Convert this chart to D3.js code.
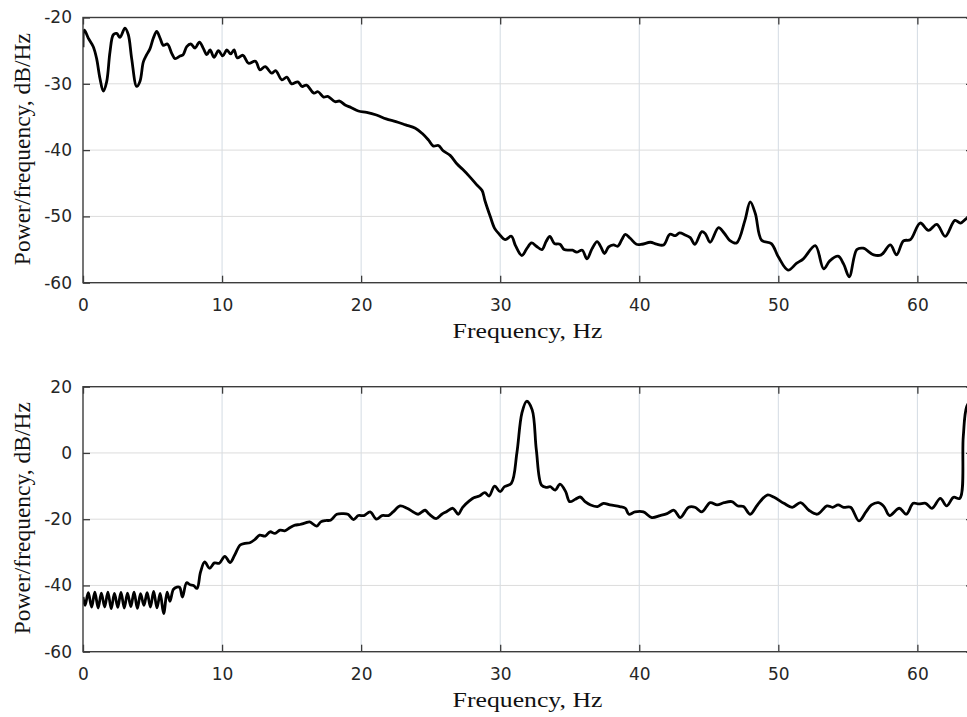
<!DOCTYPE html>
<html>
<head>
<meta charset="utf-8">
<script src="https://cdn.jsdelivr.net/npm/d3@7"></script>
<style>
  html, body { margin: 0; padding: 0; background: #ffffff; }
  svg { display: block; }
</style>
</head>
<body>
<svg id="chart" width="967" height="717"></svg>
<script>
// ---------------- DATA ----------------
const xTicks = [0, 10, 20, 30, 40, 50, 60];
const yTicksTop = [-60, -50, -40, -30, -20];
const yTicksBottom = [-60, -40, -20, 0, 20];
const xLabel = "Frequency, Hz";
const yLabel = "Power/frequency, dB/Hz";

const freqTop = [0.00,0.10,0.38,0.74,0.98,1.22,1.46,1.70,1.94,2.18,2.42,2.66,3.02,3.26,3.50,3.86,4.10,4.34,4.58,4.82,
  5.06,5.30,5.54,5.78,6.07,6.38,6.62,6.98,7.20,7.46,7.75,8.06,8.37,8.66,8.90,9.14,9.42,9.74,10.05,10.34,
  10.62,10.86,11.10,11.50,11.90,12.40,12.73,13.10,13.57,13.85,14.30,14.66,15.00,15.45,15.75,16.07,16.60,16.90,17.30,17.60,
  18.13,18.45,18.85,19.30,19.80,20.40,21.10,21.80,22.50,23.20,23.90,24.40,24.85,25.20,25.56,25.90,26.40,26.90,27.30,27.80,
  28.30,28.70,28.90,29.30,29.60,29.90,30.36,30.80,31.10,31.56,31.90,32.26,32.60,33.00,33.30,33.57,33.90,34.30,34.60,35.20,
  35.50,35.90,36.24,36.60,36.97,37.26,37.50,37.80,38.15,38.45,38.75,39.00,39.35,39.80,40.20,40.80,41.25,41.75,42.20,42.60,
  42.90,43.30,43.67,44.00,44.50,44.75,45.10,45.70,46.10,46.50,47.00,47.60,47.98,48.35,48.80,49.50,50.00,50.70,51.30,51.80,
  52.66,53.26,53.70,54.30,54.70,55.10,55.65,56.10,56.86,57.40,58.06,58.50,59.00,59.50,60.20,60.80,61.40,62.00,62.70,63.10,63.60,64.00];
const psdTop = [-24.5,-21.9,-23.1,-24.4,-26.2,-29.2,-31.1,-29.7,-25.2,-22.6,-22.4,-23.0,-21.6,-22.6,-26.2,-30.4,-29.6,-26.7,-25.6,-24.7,
  -23.1,-22.1,-23.1,-24.2,-24.0,-25.4,-26.2,-25.8,-25.6,-24.4,-24.0,-24.6,-23.7,-24.7,-25.6,-24.9,-26.0,-25.0,-25.8,-24.9,
  -25.5,-24.9,-26.1,-25.7,-26.9,-26.6,-27.9,-27.4,-28.4,-28.0,-29.4,-29.0,-30.0,-29.7,-30.4,-30.2,-31.4,-31.2,-32.0,-31.9,
  -32.7,-32.6,-33.2,-33.6,-34.1,-34.3,-34.7,-35.3,-35.7,-36.2,-36.7,-37.5,-38.5,-39.4,-39.3,-40.1,-40.8,-42.1,-42.9,-44.0,
  -45.2,-46.1,-47.6,-50.1,-51.8,-52.6,-53.5,-53.0,-54.4,-55.9,-54.9,-54.0,-54.5,-55.0,-53.8,-53.0,-54.1,-54.2,-55.0,-55.1,
  -55.4,-55.1,-56.4,-54.9,-53.8,-54.7,-55.6,-54.6,-54.3,-54.5,-53.5,-52.7,-53.3,-54.2,-54.2,-53.9,-54.2,-54.3,-52.7,-52.9,
  -52.5,-52.8,-53.2,-54.2,-52.3,-52.6,-53.9,-51.7,-52.5,-53.6,-54.0,-50.6,-47.8,-49.6,-53.6,-54.1,-56.1,-58.1,-57.1,-56.4,
  -54.4,-57.9,-56.7,-56.0,-57.2,-59.1,-55.0,-54.8,-55.8,-55.8,-54.3,-55.8,-53.7,-53.5,-51.0,-52.1,-51.2,-53.0,-50.6,-51.0,-50.2,-50.0];

const freqBottom = [0.00,0.15,0.38,0.62,0.85,1.09,1.32,1.56,1.79,2.03,2.26,2.50,2.73,2.97,3.20,3.44,3.67,3.91,4.14,4.38,
  4.61,4.85,5.08,5.32,5.55,5.80,6.05,6.25,6.50,6.75,6.95,7.15,7.45,7.70,7.95,8.20,8.45,8.75,9.10,9.45,
  9.80,10.20,10.58,10.90,11.30,11.65,12.00,12.37,12.70,13.10,13.45,13.80,14.17,14.50,14.90,15.25,15.60,16.00,16.30,16.80,
  17.10,17.45,17.80,18.25,18.70,19.05,19.45,19.80,20.20,20.65,21.10,21.50,21.97,22.30,22.80,23.30,23.75,24.10,24.60,24.90,
  25.40,25.80,26.10,26.60,26.98,27.30,27.80,28.10,28.50,28.90,29.20,29.60,30.00,30.30,30.80,31.20,31.56,31.90,32.30,32.60,
  32.97,33.30,33.60,33.96,34.30,34.70,35.00,35.40,35.75,36.10,36.50,37.00,37.43,37.90,38.60,39.00,39.25,39.70,40.30,40.90,
  41.50,42.00,42.50,42.95,43.55,44.00,44.50,45.10,45.60,46.10,46.65,47.10,47.50,47.98,48.50,49.20,49.70,50.40,51.00,51.60,
  52.20,52.80,53.50,53.90,54.30,54.70,55.20,55.80,56.30,56.70,57.20,57.60,58.00,58.70,59.20,59.70,60.10,60.60,61.05,61.65,
  62.10,62.60,63.05,63.30,63.55,64.00];
const psdBottom = [-43.5,-46.0,-42.2,-46.5,-42.0,-46.8,-42.3,-46.5,-42.0,-47.0,-42.4,-46.6,-42.1,-46.8,-42.3,-46.4,-42.0,-46.9,-42.5,-46.0,
  -42.2,-46.5,-41.8,-46.8,-42.4,-48.5,-42.0,-44.8,-41.2,-40.5,-40.6,-43.5,-39.2,-39.8,-40.0,-40.9,-36.0,-32.9,-34.8,-33.2,
  -33.3,-31.2,-33.1,-30.9,-27.8,-27.3,-27.1,-26.1,-24.8,-25.1,-23.8,-24.3,-23.3,-23.5,-22.5,-21.8,-21.6,-21.1,-20.8,-22.1,
  -20.8,-20.4,-20.3,-18.5,-18.3,-18.5,-20.1,-18.9,-18.9,-17.8,-20.0,-18.9,-18.9,-17.8,-16.0,-16.7,-17.8,-18.5,-17.3,-18.5,
  -19.8,-18.5,-17.8,-16.7,-18.5,-16.4,-14.4,-13.5,-13.0,-12.0,-13.0,-10.0,-11.7,-10.2,-9.2,0.0,12.0,15.6,13.0,0.9,
  -9.7,-10.4,-10.2,-11.2,-9.4,-11.6,-14.7,-14.0,-13.3,-14.7,-15.7,-16.2,-15.2,-15.7,-16.2,-16.7,-18.5,-17.8,-17.8,-19.5,
  -18.9,-18.3,-17.3,-19.5,-16.4,-16.4,-17.8,-15.0,-15.7,-15.0,-14.7,-16.0,-16.2,-18.5,-15.7,-12.7,-13.4,-15.2,-16.4,-15.0,
  -17.3,-18.5,-16.0,-16.4,-15.7,-16.4,-16.4,-20.5,-17.8,-15.7,-15.0,-16.2,-18.9,-16.7,-18.5,-15.2,-15.4,-15.2,-16.7,-13.7,
  -16.0,-13.4,-13.7,4.9,14.0,17.0];

// ---------------- DRAWING ----------------
const svg = d3.select("#chart");
const xLeft = 83, xRight = 973;

const panels = [
  { top: 17.5, bottom: 282.7, yDomain: [-60, -20], yTicks: yTicksTop, freq: freqTop, psd: psdTop },
  { top: 386.7, bottom: 651.7, yDomain: [-60, 20], yTicks: yTicksBottom, freq: freqBottom, psd: psdBottom }
];

const tickFont = "'DejaVu Sans', sans-serif";
const titleFont = "'Liberation Serif', 'Times New Roman', serif";

panels.forEach((p, i) => {
  const x = d3.scaleLinear().domain([0, 64]).range([xLeft, xRight]);
  const y = d3.scaleLinear().domain(p.yDomain).range([p.bottom, p.top]);
  const g = svg.append("g");

  // grid
  g.append("g").selectAll("line.vg").data(xTicks.filter(t => t > 0)).join("line")
    .attr("x1", d => x(d)).attr("x2", d => x(d))
    .attr("y1", p.top).attr("y2", p.bottom)
    .attr("stroke", "#d3dbe3").attr("stroke-width", 1);
  g.append("g").selectAll("line.hg").data(p.yTicks.filter(t => t > p.yDomain[0] && t < p.yDomain[1])).join("line")
    .attr("x1", xLeft).attr("x2", xRight)
    .attr("y1", d => y(d)).attr("y2", d => y(d))
    .attr("stroke", "#dcdcdc").attr("stroke-width", 1);

  // clip
  const clipId = "clip" + i;
  svg.append("defs").append("clipPath").attr("id", clipId)
    .append("rect").attr("x", xLeft).attr("y", p.top)
    .attr("width", xRight - xLeft).attr("height", p.bottom - p.top);

  // line
  const data = p.freq.map((f, k) => [f, p.psd[k]]);
  const line = d3.line().x(d => x(d[0])).y(d => y(d[1])).curve(d3.curveCatmullRom.alpha(0.5));
  g.append("path").datum(data)
    .attr("clip-path", `url(#${clipId})`)
    .attr("d", line).attr("fill", "none")
    .attr("stroke", "#000").attr("stroke-width", 2.8)
    .attr("stroke-linejoin", "round");

  // axes
  const ax = d3.axisBottom(x).tickValues(xTicks).tickSize(-7).tickPadding(16).tickFormat(d3.format("d"));
  const axT = d3.axisTop(x).tickValues(xTicks).tickSize(-7).tickFormat("");
  const ay = d3.axisLeft(y).tickValues(p.yTicks).tickSize(-7).tickPadding(11).tickFormat(d3.format("d"));
  const ayR = d3.axisRight(y).tickValues(p.yTicks).tickSize(-7).tickFormat("");

  const gx = g.append("g").attr("transform", `translate(0,${p.bottom})`).call(ax);
  const gxT = g.append("g").attr("transform", `translate(0,${p.top})`).call(axT);
  const gy = g.append("g").attr("transform", `translate(${xLeft},0)`).call(ay);
  const gyR = g.append("g").attr("transform", `translate(${xRight},0)`).call(ayR);
  [gx, gxT, gy, gyR].forEach(a => {
    a.select(".domain").remove();
    a.selectAll(".tick line").attr("stroke", "#3c3c3c").attr("stroke-width", 1.3);
    a.selectAll("text").attr("font-family", tickFont).attr("font-size", 17).attr("fill", "#262626");
  });
  gy.selectAll("text").text(d => d < 0 ? "-" + Math.abs(d) : d);

  // frame
  g.append("rect").attr("x", xLeft).attr("y", p.top)
    .attr("width", xRight - xLeft).attr("height", p.bottom - p.top)
    .attr("fill", "none").attr("stroke", "#3c3c3c").attr("stroke-width", 1.4);

  // x title
  const cx = (xLeft + xRight) / 2 - 0.5;
  g.append("text")
    .attr("transform", `translate(${cx},${p.bottom + 55.5}) scale(1.17,1)`)
    .attr("text-anchor", "middle")
    .attr("font-family", titleFont).attr("font-size", 22).attr("fill", "#111")
    .text(xLabel);

  // y title
  const cy = (p.top + p.bottom) / 2 - 1;
  g.append("text")
    .attr("transform", `translate(30,${cy}) rotate(-90)`)
    .attr("text-anchor", "middle")
    .attr("font-family", titleFont).attr("font-size", 23.5).attr("fill", "#111")
    .text(yLabel);
});
</script>
</body>
</html>
